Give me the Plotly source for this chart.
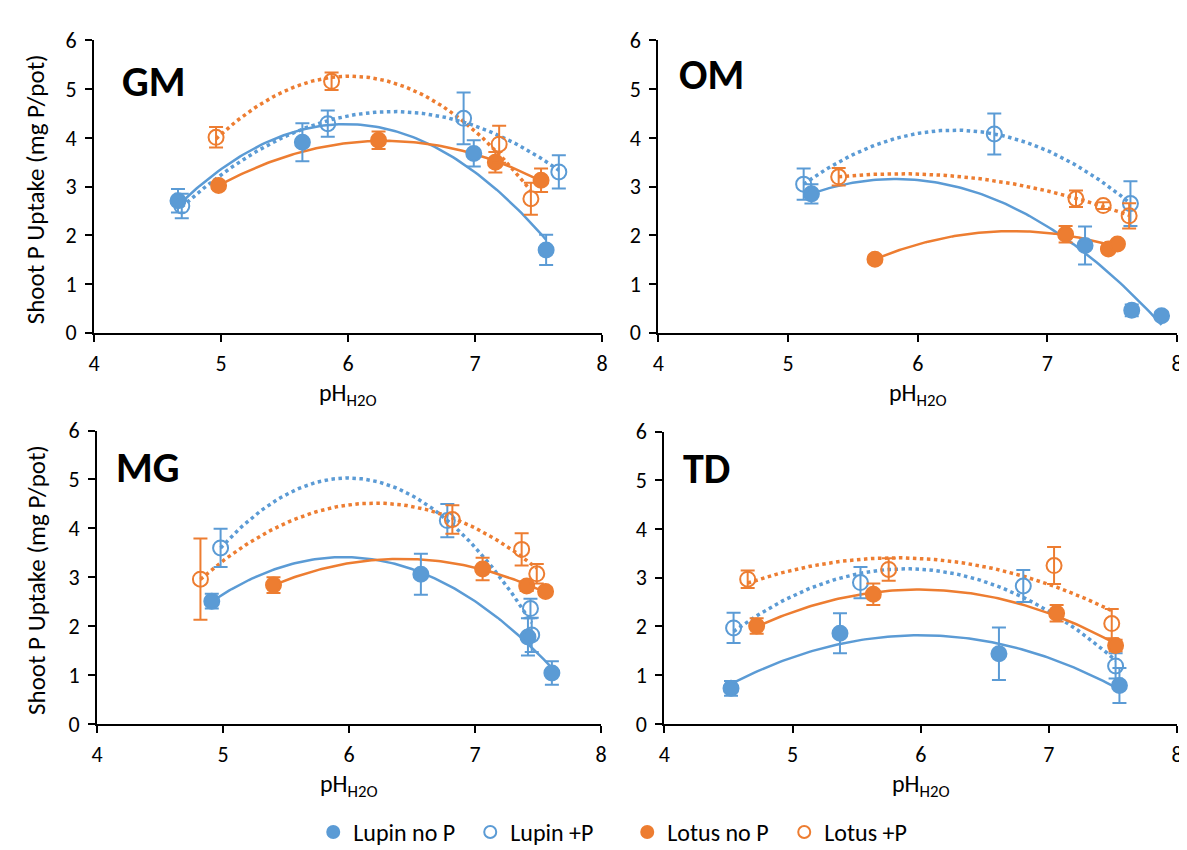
import numpy as np
import plotly.graph_objects as go

BLUE = "#5B9BD5"
ORANGE = "#ED7D31"
FONT = "Carlito, Lato, sans-serif"

panels = ["GM", "OM", "MG", "TD"]
series_names = ["Lupin no P", "Lupin +P", "Lotus no P", "Lotus +P"]

# ---- data: pH (x), shoot P uptake (y, mg P/pot), error (SE) ----
# GM
gm_lupin_noP_x = [4.66, 5.64, 6.99, 7.56]
gm_lupin_noP_y = [2.71, 3.91, 3.68, 1.70]
gm_lupin_noP_e = [0.24, 0.39, 0.27, 0.31]
gm_lupin_P_x = [4.69, 5.84, 6.91, 7.66]
gm_lupin_P_y = [2.60, 4.29, 4.40, 3.30]
gm_lupin_P_e = [0.25, 0.27, 0.53, 0.34]
gm_lotus_noP_x = [4.98, 6.24, 7.16, 7.52]
gm_lotus_noP_y = [3.02, 3.95, 3.50, 3.13]
gm_lotus_noP_e = [0.07, 0.18, 0.21, 0.24]
gm_lotus_P_x = [4.96, 5.87, 7.19, 7.44]
gm_lotus_P_y = [4.01, 5.16, 3.87, 2.75]
gm_lotus_P_e = [0.21, 0.18, 0.38, 0.33]
# OM
om_lupin_noP_x = [5.18, 7.29, 7.65, 7.88]
om_lupin_noP_y = [2.85, 1.79, 0.46, 0.35]
om_lupin_noP_e = [0.20, 0.39, 0.12, 0.08]
om_lupin_P_x = [5.12, 6.59, 7.64]
om_lupin_P_y = [3.05, 4.08, 2.65]
om_lupin_P_e = [0.32, 0.42, 0.46]
om_lotus_noP_x = [5.67, 7.14, 7.47, 7.54]
om_lotus_noP_y = [1.51, 2.02, 1.72, 1.82]
om_lotus_noP_e = [0.05, 0.17, 0.08, 0.07]
om_lotus_P_x = [5.39, 7.22, 7.43, 7.63]
om_lotus_P_y = [3.20, 2.75, 2.61, 2.40]
om_lotus_P_e = [0.18, 0.17, 0.07, 0.26]
# MG
mg_lupin_noP_x = [4.91, 6.57, 7.42, 7.61]
mg_lupin_noP_y = [2.51, 3.06, 1.78, 1.04]
mg_lupin_noP_e = [0.15, 0.42, 0.38, 0.24]
mg_lupin_P_x = [4.98, 6.78, 7.44, 7.45]
mg_lupin_P_y = [3.60, 4.16, 2.36, 1.82]
mg_lupin_P_e = [0.39, 0.34, 0.20, 0.35]
mg_lotus_noP_x = [5.40, 7.06, 7.41, 7.56]
mg_lotus_noP_y = [2.84, 3.17, 2.82, 2.71]
mg_lotus_noP_e = [0.16, 0.23, 0.10, 0.08]
mg_lotus_P_x = [4.82, 6.82, 7.37, 7.49]
mg_lotus_P_y = [2.96, 4.18, 3.57, 3.07]
mg_lotus_P_e = [0.83, 0.29, 0.33, 0.20]
# TD
td_lupin_noP_x = [4.52, 5.37, 6.61, 7.55]
td_lupin_noP_y = [0.73, 1.86, 1.44, 0.79]
td_lupin_noP_e = [0.15, 0.41, 0.54, 0.36]
td_lupin_P_x = [4.54, 5.53, 6.80, 7.52]
td_lupin_P_y = [1.97, 2.90, 2.83, 1.19]
td_lupin_P_e = [0.31, 0.32, 0.33, 0.26]
td_lotus_noP_x = [4.72, 5.63, 7.06, 7.52]
td_lotus_noP_y = [2.01, 2.66, 2.27, 1.61]
td_lotus_noP_e = [0.16, 0.22, 0.17, 0.12]
td_lotus_P_x = [4.65, 5.75, 7.04, 7.49]
td_lotus_P_y = [2.97, 3.17, 3.25, 2.06]
td_lotus_P_e = [0.18, 0.23, 0.38, 0.30]

data = {
    "GM": [(gm_lupin_noP_x, gm_lupin_noP_y, gm_lupin_noP_e), (gm_lupin_P_x, gm_lupin_P_y, gm_lupin_P_e),
           (gm_lotus_noP_x, gm_lotus_noP_y, gm_lotus_noP_e), (gm_lotus_P_x, gm_lotus_P_y, gm_lotus_P_e)],
    "OM": [(om_lupin_noP_x, om_lupin_noP_y, om_lupin_noP_e), (om_lupin_P_x, om_lupin_P_y, om_lupin_P_e),
           (om_lotus_noP_x, om_lotus_noP_y, om_lotus_noP_e), (om_lotus_P_x, om_lotus_P_y, om_lotus_P_e)],
    "MG": [(mg_lupin_noP_x, mg_lupin_noP_y, mg_lupin_noP_e), (mg_lupin_P_x, mg_lupin_P_y, mg_lupin_P_e),
           (mg_lotus_noP_x, mg_lotus_noP_y, mg_lotus_noP_e), (mg_lotus_P_x, mg_lotus_P_y, mg_lotus_P_e)],
    "TD": [(td_lupin_noP_x, td_lupin_noP_y, td_lupin_noP_e), (td_lupin_P_x, td_lupin_P_y, td_lupin_P_e),
           (td_lotus_noP_x, td_lotus_noP_y, td_lotus_noP_e), (td_lotus_P_x, td_lotus_P_y, td_lotus_P_e)],
}

W, H = 1187, 850
# axis pixel boxes: (x_left, x_right, y_top, y_bottom)
boxes = {
    "GM": (81, 594, 20, 322),
    "OM": (651, 1175, 20, 322),
    "MG": (84, 593, 423, 726),
    "TD": (657, 1175, 424, 726),
}
label_pos = {"GM": (141, 62), "OM": (705, 55), "MG": (135, 461), "TD": (700, 462)}

colors = [BLUE, BLUE, ORANGE, ORANGE]
filled = [True, False, True, False]
dashes = ["solid", "dot", "solid", "dot"]

fig = go.Figure()
layout = dict()
annotations = []

for i, p in enumerate(panels):
    xa = "x" if i == 0 else f"x{i+1}"
    ya = "y" if i == 0 else f"y{i+1}"
    xl, xr, yt, yb = boxes[p]
    layout["xaxis" if i == 0 else f"xaxis{i+1}"] = dict(
        domain=[xl / W, xr / W], anchor=ya, range=[4, 8], dtick=1, tick0=4,
        showline=True, linecolor="black", linewidth=2, ticks="outside", ticklen=7,
        tickwidth=1.5, tickcolor="black", showgrid=False, zeroline=False,
        tickfont=dict(family=FONT, size=22, color="black"), ticklabelstandoff=3,
        fixedrange=True,
    )
    layout["yaxis" if i == 0 else f"yaxis{i+1}"] = dict(
        domain=[1 - yb / H, 1 - yt / H], anchor=xa, range=[0, 6], dtick=1, tick0=0,
        showline=True, linecolor="black", linewidth=2, ticks="outside", ticklen=7,
        tickwidth=1.5, tickcolor="black", showgrid=False, zeroline=False,
        tickfont=dict(family=FONT, size=22, color="black"), ticklabelstandoff=4,
        fixedrange=True,
    )
    for k, (xs, ys, es) in enumerate(data[p]):
        # quadratic trendline (polynomial order 2) over the data range
        coef = np.polyfit(xs, ys, 2)
        xx = np.linspace(min(xs), max(xs), 120)
        yy = np.polyval(coef, xx)
        fig.add_trace(go.Scatter(
            x=xx, y=yy, mode="lines", xaxis=xa, yaxis=ya, showlegend=False,
            line=dict(color=colors[k], width=2.5 if dashes[k] == "solid" else 3.5, dash=dashes[k]),
            hoverinfo="skip",
        ))
    for k, (xs, ys, es) in enumerate(data[p]):
        fig.add_trace(go.Scatter(
            x=xs, y=ys, mode="markers", xaxis=xa, yaxis=ya,
            name=series_names[k], showlegend=(i == 0), legendgroup=series_names[k],
            marker=dict(symbol="circle" if filled[k] else "circle-open", size=15,
                        color=colors[k], line=dict(color=colors[k], width=2)),
            error_y=dict(type="data", array=es, visible=True, color=colors[k],
                         thickness=2, width=7),
        ))
    lx, ly = label_pos[p]
    annotations.append(dict(text=f"<b>{p}</b>", x=lx / W, y=1 - ly / H, xref="paper", yref="paper",
                            showarrow=False, font=dict(family=FONT, size=42, color="black"),
                            xanchor="center", yanchor="middle"))
    # x title
    annotations.append(dict(text="pH<sub>H2O</sub>", x=(xl + xr) / 2 / W, y=1 - (yb + 64) / H,
                            xref="paper", yref="paper", showarrow=False,
                            font=dict(family=FONT, size=24, color="black"),
                            xanchor="center", yanchor="middle"))
    if p in ("GM", "MG"):
        annotations.append(dict(text="Shoot P Uptake (mg P/pot)", x=22 / W, y=1 - ((yt + yb) / 2 + 3) / H,
                                xref="paper", yref="paper", showarrow=False, textangle=-90,
                                font=dict(family=FONT, size=25, color="black"),
                                xanchor="center", yanchor="middle"))

fig.update_layout(
    **layout,
    width=W, height=H,
    margin=dict(l=0, r=0, t=0, b=0),
    paper_bgcolor="white", plot_bgcolor="white",
    annotations=annotations,
    showlegend=True,
    legend=dict(orientation="h", x=(593.5 + 26) / W, xanchor="center", y=1 - 838 / H, yanchor="middle",
                font=dict(family=FONT, size=24, color="black"), itemsizing="constant",
                entrywidth=112, traceorder="normal"),
)

fig.write_html("out.html")
